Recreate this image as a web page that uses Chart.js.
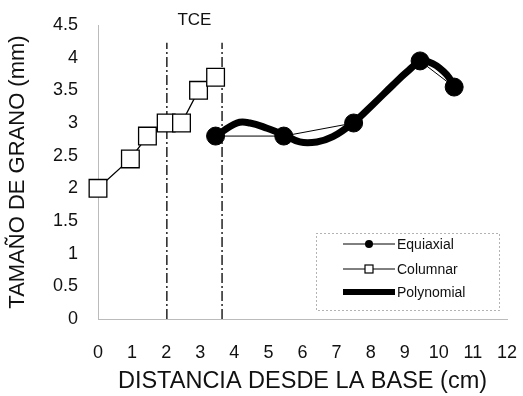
<!DOCTYPE html>
<html>
<head>
<meta charset="utf-8">
<script src="https://cdn.jsdelivr.net/npm/chart.js@4.4.0/dist/chart.umd.min.js"></script>
<style>
html,body{margin:0;padding:0;background:#fff;}
#wrap{width:523px;height:396px;}
</style>
</head>
<body>
<div id="wrap"><canvas id="c" width="523" height="396"></canvas></div>
<script>
// Data
const equiaxialX = [3.45, 5.45, 7.5, 9.45, 10.45];
const equiaxialY = [2.8, 2.8, 3.0, 3.95, 3.55];
const columnarX = [0, 0.95, 1.45, 2, 2.45, 2.95, 3.45];
const columnarY = [2.0, 2.45, 2.8, 3.0, 3.0, 3.5, 3.7];
const polyX = [3.43, 4.08, 4.46, 4.96, 5.45, 5.92, 6.42, 6.89, 7.48, 8.06, 8.65, 9.06, 9.47, 9.82, 10.23, 10.47];
const polyY = [2.79, 3.0, 3.0, 2.92, 2.82, 2.71, 2.71, 2.79, 3.0, 3.28, 3.58, 3.78, 3.94, 3.91, 3.74, 3.54];
const tceLinesX = [2.02, 3.64];
const tceLineTop = 4.23;
const xTicks = [0,1,2,3,4,5,6,7,8,9,10,11,12];
const yTicks = [0,0.5,1,1.5,2,2.5,3,3.5,4,4.5];
const legendLabels = ['Equiaxial', 'Columnar', 'Polynomial'];

const pts = (xs, ys) => xs.map((x, i) => ({x: x, y: ys[i]}));
const FONT = "'Liberation Sans', Arial, sans-serif";

const overlay = {
  id: 'overlay',
  afterDatasetsDraw(chart) {
    const ctx = chart.ctx;
    const xs = chart.scales.x;
    ctx.save();
    // TCE label
    ctx.fillStyle = '#111';
    ctx.font = '17px ' + FONT;
    ctx.textAlign = 'center';
    ctx.textBaseline = 'middle';
    ctx.fillText('TCE', (xs.getPixelForValue(tceLinesX[0]) + xs.getPixelForValue(tceLinesX[1])) / 2, 20);
    // Legend box
    ctx.strokeStyle = '#666';
    ctx.lineWidth = 1;
    ctx.setLineDash([1, 3]);
    ctx.strokeRect(316.5, 233.5, 183, 77);
    ctx.setLineDash([]);
    const rows = [244, 269, 292];
    const x0 = 343, x1 = 395;
    ctx.font = '14px ' + FONT;
    ctx.textAlign = 'left';
    legendLabels.forEach((lab, i) => {
      const y = rows[i];
      ctx.strokeStyle = '#000';
      ctx.lineWidth = i === 2 ? 6 : 1;
      ctx.beginPath(); ctx.moveTo(x0, y); ctx.lineTo(x1, y); ctx.stroke();
      const cx = (x0 + x1) / 2;
      if (i === 0) {
        ctx.fillStyle = '#000';
        ctx.beginPath(); ctx.arc(cx, y, 4, 0, Math.PI * 2); ctx.fill();
      } else if (i === 1) {
        ctx.fillStyle = '#fff';
        ctx.lineWidth = 1.2;
        ctx.fillRect(cx - 4, y - 4, 8, 8);
        ctx.strokeRect(cx - 4, y - 4, 8, 8);
      }
      ctx.fillStyle = '#111';
      ctx.fillText(lab, x1 + 2, y + 1);
    });
    ctx.restore();
  }
};

new Chart(document.getElementById('c'), {
  type: 'scatter',
  data: {
    datasets: [
      {
        label: legendLabels[0],
        data: pts(equiaxialX, equiaxialY),
        showLine: true,
        borderColor: '#000',
        borderWidth: 1,
        backgroundColor: '#000',
        pointRadius: 9,
        pointStyle: 'circle',
        clip: false
      },
      {
        label: legendLabels[1],
        data: pts(columnarX, columnarY),
        showLine: true,
        borderColor: '#000',
        borderWidth: 1.3,
        backgroundColor: '#fff',
        pointRadius: 12.5,
        pointBorderWidth: 1.3,
        pointStyle: 'rect',
        clip: false
      },
      {
        label: legendLabels[2],
        data: pts(polyX, polyY),
        showLine: true,
        borderColor: '#000',
        borderWidth: 7,
        pointRadius: 0,
        tension: 0.4,
        clip: false
      },
      {
        label: 'TCE1',
        data: [{x: tceLinesX[0], y: 0}, {x: tceLinesX[0], y: tceLineTop}],
        showLine: true,
        borderColor: '#222',
        borderWidth: 1.5,
        borderDash: [10, 3, 2, 3],
        pointRadius: 0
      },
      {
        label: 'TCE2',
        data: [{x: tceLinesX[1], y: 0}, {x: tceLinesX[1], y: tceLineTop}],
        showLine: true,
        borderColor: '#222',
        borderWidth: 1.5,
        borderDash: [10, 3, 2, 3],
        pointRadius: 0
      }
    ]
  },
  options: {
    responsive: false,
    animation: false,
    layout: {padding: {top: 25, right: 16, left: 0, bottom: 0}},
    plugins: {legend: {display: false}, tooltip: {enabled: false}},
    scales: {
      x: {
        type: 'linear',
        min: 0, max: 12,
        afterBuildTicks: s => { s.ticks = xTicks.map(v => ({value: v})); },
        afterFit: s => { s.height = 77; s.paddingLeft = 0; s.paddingRight = 0; },
        grid: {display: false, drawTicks: false},
        border: {display: true, color: '#bbb', dash: [1, 5]},
        ticks: {color: '#111', font: {size: 18, family: FONT}, padding: 23, maxRotation: 0, autoSkip: false,
                callback: v => String(v)},
        title: {display: true, text: 'DISTANCIA DESDE LA BASE (cm)', color: '#111', font: {size: 23.5, family: FONT}, padding: {top: 0, bottom: 0}}
      },
      y: {
        min: 0, max: 4.5,
        afterBuildTicks: s => { s.ticks = yTicks.map(v => ({value: v})); },
        afterFit: s => { s.width = 98; s.paddingTop = 0; s.paddingBottom = 0; },
        grid: {display: false, drawTicks: false},
        border: {display: true, color: '#bbb', dash: [1, 5]},
        ticks: {color: '#111', font: {size: 18, family: FONT}, padding: 20, autoSkip: false,
                callback: v => String(v)},
        title: {display: true, text: 'TAMAÑO DE GRANO (mm)', color: '#111', font: {size: 22, family: FONT}, padding: {top: 5, bottom: 0}}
      }
    }
  },
  plugins: [overlay]
});
</script>
</body>
</html>
